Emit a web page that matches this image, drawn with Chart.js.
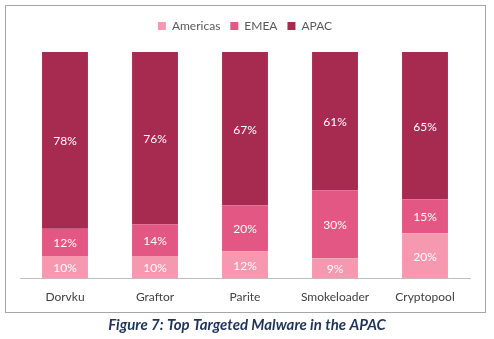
<!DOCTYPE html>
<html>
<head>
<meta charset="utf-8">
<script src="https://cdn.jsdelivr.net/npm/chart.js@4/dist/chart.umd.min.js"></script>
<style>
html,body{margin:0;padding:0;background:#fff;}
#wrap{position:relative;width:494px;height:339px;}
</style>
</head>
<body>
<div id="wrap"><canvas id="c" width="494" height="339"></canvas></div>
<script>
const categories = ['Dorvku', 'Graftor', 'Parite', 'Smokeloader', 'Cryptopool'];
const americas = [10, 10, 12, 9, 20];
const emea = [12, 14, 20, 30, 15];
const apac = [78, 76, 67, 61, 65];
const seriesNames = ['Americas', 'EMEA', 'APAC'];
const caption = 'Figure 7: Top Targeted Malware in the APAC';

const raw = [americas, emea, apac];
const totals = categories.map((_, i) => raw.reduce((s, a) => s + a[i], 0));
const share = arr => arr.map((v, i) => v / totals[i] * 100);

const colors = ['#f598b0', '#e25784', '#a72a51'];
const FONT = 'Lato, "Open Sans", sans-serif';

const legendSpace = {
  id: 'legendSpace',
  beforeInit(chart) {
    const fit = chart.legend.fit;
    chart.legend.fit = function () {
      fit.bind(chart.legend)();
      this.height += 10;
    };
  }
};

const decor = {
  id: 'decor',
  beforeDraw(chart) {
    const ctx = chart.ctx;
    ctx.save();
    ctx.strokeStyle = '#a6a6a6';
    ctx.lineWidth = 1;
    ctx.strokeRect(5.5, 5.5, 480, 307);
    ctx.restore();
  },
  afterDraw(chart) {
    const ctx = chart.ctx;
    ctx.save();
    ctx.fillStyle = '#1f3458';
    ctx.font = 'italic bold 15px ' + FONT;
    ctx.textAlign = 'center';
    ctx.textBaseline = 'middle';
    ctx.fillText(caption, 247, 325);
    ctx.restore();
  }
};

const valueLabels = {
  id: 'valueLabels',
  afterDatasetsDraw(chart) {
    const ctx = chart.ctx;
    ctx.save();
    ctx.fillStyle = '#ffffff';
    ctx.font = '12px ' + FONT;
    ctx.textAlign = 'center';
    ctx.textBaseline = 'middle';
    chart.data.datasets.forEach((ds, di) => {
      const meta = chart.getDatasetMeta(di);
      meta.data.forEach((bar, i) => {
        const y = (bar.y + bar.base) / 2;
        ctx.fillText(raw[di][i] + '%', bar.x, y + 1);
      });
    });
    ctx.restore();
  }
};

new Chart(document.getElementById('c'), {
  type: 'bar',
  data: {
    labels: categories,
    datasets: raw.map((arr, k) => ({
      label: seriesNames[k],
      data: share(arr),
      backgroundColor: colors[k],
      borderWidth: 0,
      categoryPercentage: 1,
      barPercentage: 0.51
    }))
  },
  options: {
    responsive: false,
    animation: false,
    devicePixelRatio: 1,
    layout: { padding: { left: 20, right: 24, top: 10, bottom: 24 } },
    plugins: {
      legend: {
        position: 'top',
        labels: {
          boxWidth: 8, boxHeight: 8, padding: 10,
          color: '#595959',
          font: { family: FONT, size: 12 }
        }
      },
      tooltip: { enabled: false }
    },
    scales: {
      x: {
        stacked: true,
        grid: { display: false, drawTicks: false },
        border: { color: '#bfbfbf', width: 1 },
        ticks: { color: '#404040', font: { family: FONT, size: 12 }, padding: 11 }
      },
      y: {
        stacked: true,
        display: false,
        min: 0, max: 100
      }
    }
  },
  plugins: [legendSpace, decor, valueLabels]
});
</script>
</body>
</html>
